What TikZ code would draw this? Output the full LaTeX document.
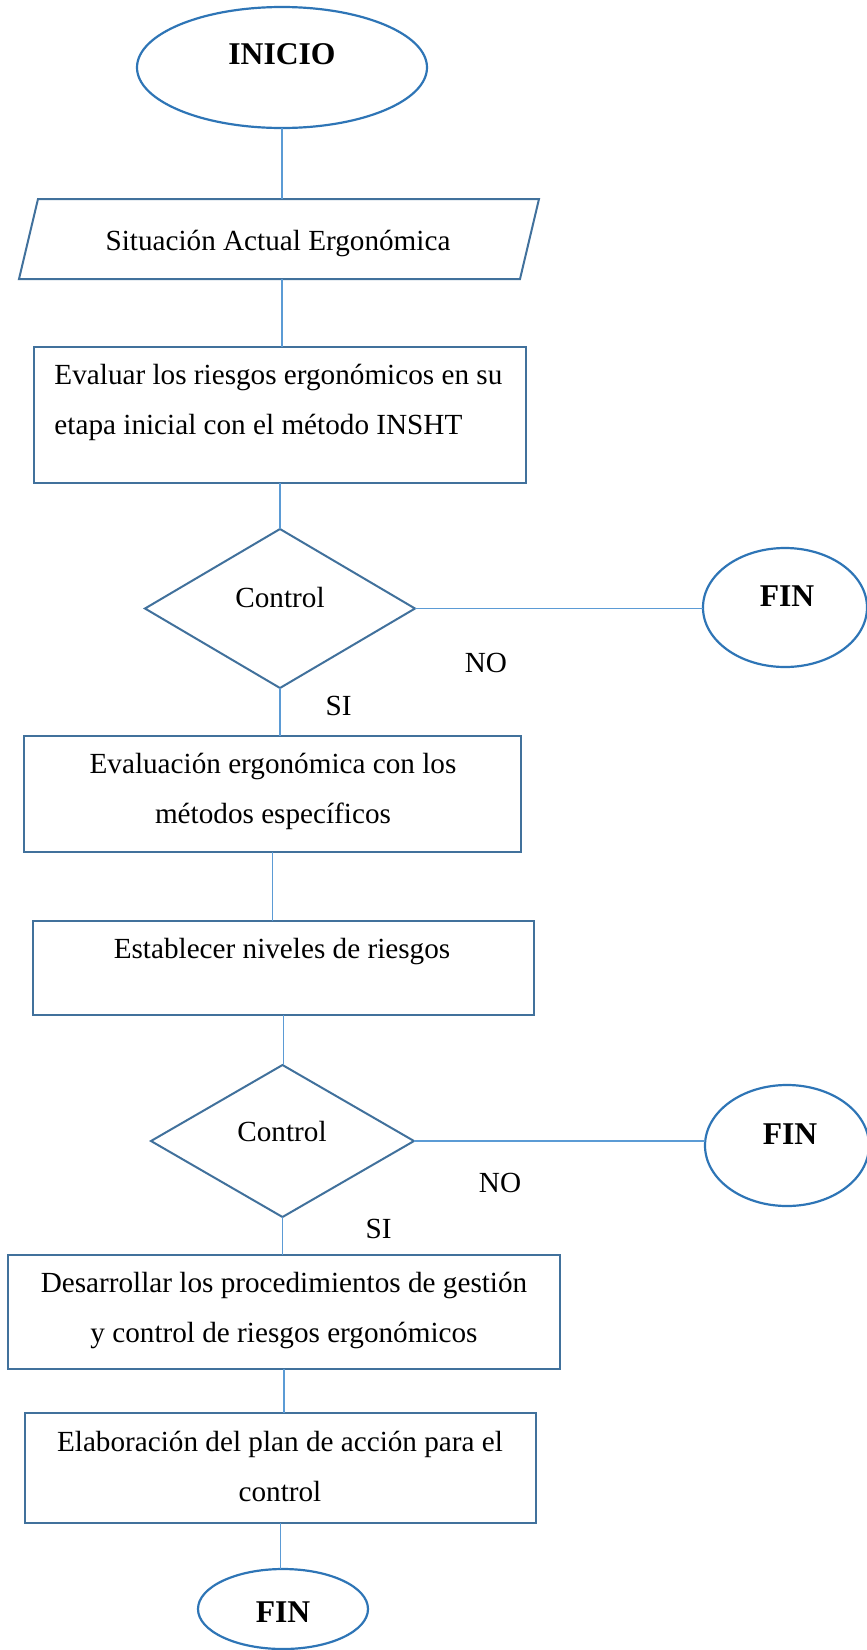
\documentclass[tikz,border=0pt]{standalone}
\usepackage{fontspec}
\setmainfont{Liberation Serif}
\usetikzlibrary{shapes.geometric}
\definecolor{azulelipse}{HTML}{2E75B6}
\definecolor{azulcaja}{HTML}{41719C}
\definecolor{azullinea}{HTML}{5B9BD5}
\newcommand\pxu{0.411pt}
\tikzset{
  caja/.style={draw=azulcaja, line width=0.82pt, inner sep=0pt, outer sep=0pt},
  rombo/.style={caja, diamond},
  elipse/.style={draw=azulelipse, line width=0.9pt, ellipse, inner sep=0pt, outer sep=0pt},
  linea/.style={draw=azullinea, line width=0.45pt},
  texto/.style={anchor=base, inner sep=0pt, font=\fontsize{12}{20.55}\selectfont},
  titulo/.style={anchor=base, inner sep=0pt, font=\fontsize{13}{15}\selectfont\bfseries}
}
\begin{document}
\begin{tikzpicture}[x=\pxu, y=-\pxu]
\useasboundingbox[fill=white] (0,0) rectangle (867,1650);
% figuras
\node[elipse, minimum width=290*\pxu, minimum height=121*\pxu] (inicio) at (282,67.5) {};
\draw[caja] (38,199) -- (539,199) -- (520,279) -- (19,279) -- cycle;
\coordinate (situacion-n) at (282,199);
\coordinate (situacion-s) at (282,279);
\node[caja, minimum width=492*\pxu, minimum height=136*\pxu] (evalua) at (280,415) {};
\node[rombo, minimum width=270*\pxu, minimum height=159*\pxu] (control1) at (280,608.5) {};
\node[elipse, minimum width=164*\pxu, minimum height=119*\pxu] (fin1) at (785,607.5) {};
\node[caja, minimum width=497*\pxu, minimum height=116*\pxu] (metodos) at (272.5,794) {};
\node[caja, minimum width=501*\pxu, minimum height=94*\pxu] (niveles) at (283.5,968) {};
\node[rombo, minimum width=263*\pxu, minimum height=152*\pxu] (control2) at (282.5,1141) {};
\node[elipse, minimum width=164*\pxu, minimum height=121*\pxu] (fin2) at (787,1145.5) {};
\node[caja, minimum width=552*\pxu, minimum height=114*\pxu] (procedimientos) at (284,1312) {};
\node[caja, minimum width=511*\pxu, minimum height=110*\pxu] (plan) at (280.5,1468) {};
\node[elipse, minimum width=170*\pxu, minimum height=80*\pxu] (fin3) at (283,1609) {};
% textos (base = ultima linea)
\node[titulo] (t-inicio) at (282,64) {INICIO};
\node[texto] (t-situacion) at (278,250) {Situación Actual Ergonómica};
\node[texto, anchor=base west, align=left] (t-evalua) at (54,434) {Evaluar los riesgos ergonómicos en su\\etapa inicial con el método INSHT};
\node[texto] (t-control1) at (280,607) {Control};
\node[titulo] (t-fin1) at (787,606) {FIN};
\node[texto] (no1) at (486,672) {NO};
\node[texto] (si1) at (338.5,715) {SI};
\node[texto, align=center] (t-metodos) at (273,823) {Evaluación ergonómica con los\\métodos específicos};
\node[texto] (t-niveles) at (282,958) {Establecer niveles de riesgos};
\node[texto] (t-control2) at (282,1141) {Control};
\node[titulo] (t-fin2) at (790,1144) {FIN};
\node[texto] (no2) at (500,1192) {NO};
\node[texto] (si2) at (378.5,1238) {SI};
\node[texto, align=center] (t-procedimientos) at (284,1342) {Desarrollar los procedimientos de gestión\\y control de riesgos ergonómicos};
\node[texto, align=center] (t-plan) at (280,1501) {Elaboración del plan de acción para el\\control};
\node[titulo] (t-fin3) at (283,1622) {FIN};
% conectores
\draw[linea] (inicio) -- (situacion-n);
\draw[linea] (situacion-s) -- (situacion-s |- evalua.north);
\draw[linea] (evalua.south) -- (evalua.south |- control1.north);
\draw[linea] (control1.east) -- (control1.east -| fin1.west);
\draw[linea] (control1.south) -- (control1.south |- metodos.north);
\draw[linea] (metodos.south) -- (metodos.south |- niveles.north);
\draw[linea] (niveles.south) -- (niveles.south |- control2.north);
\draw[linea] (control2.east) -- (control2.east -| fin2.west);
\draw[linea] (control2.south) -- (control2.south |- procedimientos.north);
\draw[linea] (procedimientos.south) -- (procedimientos.south |- plan.north);
\draw[linea] (plan.south) -- (plan.south |- fin3.north);
\end{tikzpicture}
\end{document}
